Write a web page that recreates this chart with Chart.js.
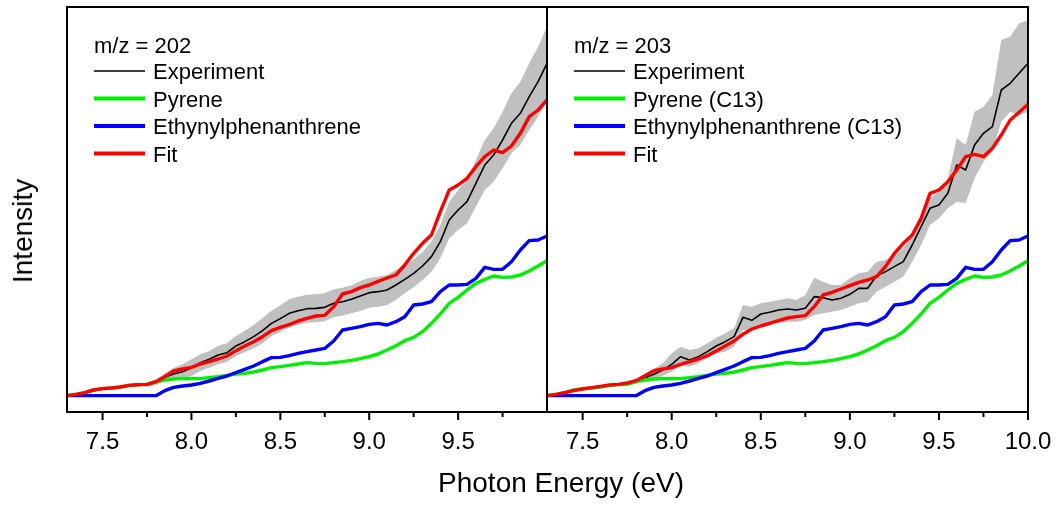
<!DOCTYPE html>
<html><head><meta charset="utf-8">
<script src="https://cdn.jsdelivr.net/npm/chart.js@4/dist/chart.umd.min.js"></script>
<style>
html,body{margin:0;padding:0;background:#fff;width:1060px;height:506px;overflow:hidden;}
#wrap{position:relative;width:1060px;height:506px;}
canvas{position:absolute;top:0;}
.title{position:absolute;font-family:'Liberation Sans',Arial,sans-serif;font-size:28px;line-height:28px;white-space:nowrap;color:#000;}
</style></head><body>
<div id="wrap">
<canvas id="left" width="560" height="506" style="left:0;width:560px;height:506px"></canvas>
<canvas id="right" width="520" height="506" style="left:540px;width:520px;height:506px"></canvas>
<div class="title" style="left:561px;top:483px;transform:translate(-50%,-50%)">Photon Energy (eV)</div>
<div class="title" style="left:23px;top:231px;transform:translate(-50%,-50%) rotate(-90deg)">Intensity</div>
</div>
<script>
const energy = [7.30,7.35,7.40,7.45,7.50,7.55,7.60,7.65,7.70,7.75,7.80,7.85,7.90,7.95,8.00,8.05,8.10,8.15,8.20,8.25,8.30,8.35,8.40,8.45,8.50,8.55,8.60,8.65,8.70,8.75,8.80,8.85,8.90,8.95,9.00,9.05,9.10,9.15,9.20,9.25,9.30,9.35,9.40,9.45,9.50,9.55,9.60,9.65,9.70,9.75,9.80,9.85,9.90,9.95,10.00];

// m/z = 202
const exp202 = [0,0.4,0.9,1.5,2.0,2.3,2.6,2.9,3.1,3.2,3.9,5.5,6.5,7.2,8.4,9.9,10.9,12.2,12.9,14.9,16.2,17.7,19.5,21.7,23.1,24.7,25.5,26.1,26.2,26.5,27.7,28.2,28.9,29.9,30.9,31.2,31.7,33.2,34.9,36.7,38.9,41.7,46.2,52.7,55.7,58.2,63.7,69.2,72.2,76.7,81.7,84.7,89.7,94.2,99.7];
const exp202Upper = [0.3,0.7,1.2,1.8,2.3,2.6,2.9,3.2,3.4,3.7,4.7,6.7,8.3,9.4,10.9,12.4,13.4,15.0,15.7,17.9,19.4,21.2,23.3,25.5,27.1,28.9,29.7,30.3,30.4,30.7,31.9,32.4,33.1,34.4,35.4,35.7,36.2,37.7,39.1,40.9,43.1,46.2,51.2,58.2,61.7,64.7,70.7,76.7,80.2,85.2,90.7,94.2,99.7,104.7,110.7];
const exp202Lower = [-0.3,0.1,0.6,1.2,1.7,2.0,2.3,2.6,2.8,2.7,3.1,4.3,4.7,5.0,5.9,7.4,8.4,9.4,10.1,11.9,13.0,14.2,15.7,17.9,19.1,20.5,21.3,21.9,22.0,22.3,23.5,24.0,24.7,25.4,26.4,26.7,27.2,28.7,30.7,32.5,34.7,37.2,41.2,47.2,49.7,51.7,56.7,61.7,64.2,68.2,72.7,75.2,79.7,83.7,88.7];
const fit202 = [0,0.4,0.9,1.7,2.1,2.3,2.6,3.1,3.3,3.4,4.2,5.7,7.4,8.0,8.5,9.5,10.2,11.0,11.9,13.5,14.9,16.2,17.7,19.5,20.5,21.3,22.4,23.2,23.9,24.1,26.7,30.5,31.2,32.4,33.2,34.3,35.3,36.2,39.2,42.7,45.7,48.2,55.2,61.7,63.2,65.2,68.7,71.7,73.7,72.9,74.9,78.7,83.7,85.7,88.7];

// component spectra (same in both panels)
const pyrene = [0,0.4,0.9,1.7,2.1,2.3,2.6,3.1,3.3,3.4,4.2,4.7,5.0,5.1,5.1,5.1,5.4,5.7,6.1,6.5,6.7,7.1,7.7,8.4,8.7,9.1,9.5,9.9,9.7,9.6,9.9,10.2,10.6,11.1,11.7,12.5,13.7,15.0,16.5,17.5,19.2,21.7,24.5,27.7,29.5,31.7,33.7,34.9,35.9,35.5,35.6,36.2,37.4,38.9,40.5];
const ethynyl = [0,0,0,0,0,0,0,0,0,0,0,1.5,2.5,2.9,3.2,3.7,4.4,5.2,5.9,6.9,7.9,8.9,10.2,11.4,11.5,12.0,12.7,13.2,13.7,14.2,16.4,19.7,20.2,20.7,21.4,21.7,21.2,22.2,23.7,27.2,27.5,28.2,31.2,33.2,33.2,33.4,35.2,38.5,37.9,37.9,40.2,43.7,46.5,46.7,47.9];

// m/z = 203
const exp203 = [0,0.4,0.9,1.5,2.0,2.4,2.7,3.0,3.2,3.5,4.2,5.4,6.4,7.7,9.4,11.7,10.7,11.7,13.2,14.9,16.2,17.7,23.5,22.6,24.5,25.0,25.7,26.0,25.7,26.2,29.7,29.4,28.7,29.2,30.4,32.2,32.2,36.0,37.2,38.7,40.2,45.2,50.7,56.2,57.2,60.7,69.2,67.7,75.2,78.7,80.7,91.7,93.7,96.7,99.7];
const exp203Upper = [0.3,0.7,1.2,1.8,2.3,2.7,3.0,3.3,3.5,3.9,4.8,6.4,8.0,9.7,12.7,14.7,13.7,14.2,15.7,17.4,18.7,20.2,27.2,26.7,27.7,28.2,28.7,29.2,28.7,30.2,35.4,34.2,33.2,33.2,35.2,36.7,37.2,40.2,40.7,42.2,44.2,48.2,54.2,59.2,61.2,65.2,77.2,75.2,85.2,86.7,90.2,106.7,107.7,111.7,112.7];
const exp203Lower = [-0.3,0.1,0.6,1.2,1.7,2.1,2.4,2.7,2.9,3.1,3.6,4.4,4.7,6.0,7.2,9.2,8.7,9.7,11.2,12.7,13.2,14.7,19.7,19.7,21.2,21.7,21.7,22.2,22.2,22.7,24.2,24.7,25.2,25.7,26.7,27.7,28.2,31.2,32.7,34.2,35.7,40.2,45.2,51.2,53.2,56.2,58.2,57.7,65.2,70.2,73.2,82.2,85.2,84.2,85.2];
const fit203 = [0,0.4,0.9,1.5,2.0,2.4,2.8,3.2,3.4,3.8,4.5,6.0,7.5,8.0,8.4,9.4,10.2,11.0,12.0,13.4,14.9,16.4,18.4,20.0,20.9,21.7,22.5,23.3,23.7,24.0,26.7,30.2,31.0,32.0,33.0,34.0,34.7,35.7,38.7,42.7,45.7,48.2,53.2,60.7,61.7,64.2,67.7,71.7,72.4,71.7,74.2,78.2,82.7,85.0,87.4];

const majorTicks = [7.5,8.0,8.5,9.0,9.5,10.0];
const minorTicks = [7.75,8.25,8.75,9.25,9.75];

const FONT = "'Liberation Sans', Arial, sans-serif";
Chart.defaults.font.family = FONT;
Chart.defaults.color = '#000';

const pts = arr => energy.map((e, i) => ({x: e, y: arr[i]}));

const framePlugin = {
  id: 'panelFrame',
  afterDraw(chart, args, opts) {
    const ctx = chart.ctx, a = chart.chartArea, xs = chart.scales.x;
    ctx.save();
    ctx.strokeStyle = '#000';
    ctx.lineWidth = 2;
    ctx.strokeRect(a.left, a.top, a.right - a.left, a.bottom - a.top);
    ctx.beginPath();
    opts.major.forEach(v => { const px = xs.getPixelForValue(v); ctx.moveTo(px, a.bottom); ctx.lineTo(px, a.bottom + 8); });
    opts.minor.forEach(v => { const px = xs.getPixelForValue(v); ctx.moveTo(px, a.bottom); ctx.lineTo(px, a.bottom + 5); });
    ctx.stroke();
    // legend
    ctx.font = '22px ' + FONT;
    ctx.fillStyle = '#000';
    ctx.textBaseline = 'alphabetic';
    ctx.fillText(opts.title, a.left + 27, 53);
    const items = chart.data.datasets.filter(d => !d.label.startsWith('_'));
    items.forEach((d, i) => {
      const y = 71 + i * 27.5;
      ctx.strokeStyle = d.borderColor;
      ctx.lineWidth = d.legendWidth;
      ctx.beginPath(); ctx.moveTo(a.left + 27, y); ctx.lineTo(a.left + 78, y); ctx.stroke();
      ctx.fillText(d.label, a.left + 86, y + 8);
    });
    ctx.restore();
  }
};

function makePanel(id, padding, tickLabels, title, names, expArr, upArr, loArr, fitArr, major) {
  return new Chart(document.getElementById(id), {
    type: 'line',
    data: {
      datasets: [
        {label: '_lo', data: pts(loArr), borderWidth: 0, pointRadius: 0, fill: false, borderColor: 'rgba(0,0,0,0)', order: 10},
        {label: '_hi', data: pts(upArr), borderWidth: 0, pointRadius: 0, fill: '-1', backgroundColor: '#c0c0c0', borderColor: 'rgba(0,0,0,0)', order: 9},
        {label: names[0], data: pts(expArr), borderColor: '#000000', borderWidth: 1.6, legendWidth: 1.6, pointRadius: 0, fill: false, order: 4},
        {label: names[1], data: pts(pyrene), borderColor: '#00ee00', borderWidth: 3.4, legendWidth: 3.8, pointRadius: 0, fill: false, order: 3},
        {label: names[2], data: pts(ethynyl), borderColor: '#0000ff', borderWidth: 3.4, legendWidth: 3.8, pointRadius: 0, fill: false, order: 2},
        {label: names[3], data: pts(fitArr), borderColor: '#ff0000', borderWidth: 3.4, legendWidth: 3.8, pointRadius: 0, fill: false, order: 1}
      ]
    },
    options: {
      responsive: false,
      animation: false,
      events: [],
      layout: {padding: padding},
      elements: {line: {tension: 0, borderCapStyle: 'round', borderJoinStyle: 'round'}},
      plugins: {legend: {display: false}, tooltip: {enabled: false},
        panelFrame: {title: title, major: major, minor: minorTicks}},
      scales: {
        x: {
          type: 'linear', min: 7.3, max: 10.0,
          grid: {display: false}, border: {display: false},
          afterBuildTicks: s => { s.ticks = tickLabels.map(v => ({value: v})); },
          afterFit: s => { s.height = 94; },
          ticks: {autoSkip: false, maxRotation: 0, padding: 8, font: {size: 24}, color: '#000',
            callback: v => Number(v).toFixed(1)}
        },
        y: {display: false, min: -4.9, max: 116.6}
      }
    },
    plugins: [framePlugin]
  });
}

makePanel('left', {left: 67, right: 13, top: 7, bottom: 0}, [7.5,8.0,8.5,9.0,9.5],
  'm/z = 202', ['Experiment', 'Pyrene', 'Ethynylphenanthrene', 'Fit'],
  exp202, exp202Upper, exp202Lower, fit202, [7.5,8.0,8.5,9.0,9.5]);
makePanel('right', {left: 7, right: 32, top: 7, bottom: 0}, majorTicks,
  'm/z = 203', ['Experiment', 'Pyrene (C13)', 'Ethynylphenanthrene (C13)', 'Fit'],
  exp203, exp203Upper, exp203Lower, fit203, majorTicks);
</script>
</body></html>
